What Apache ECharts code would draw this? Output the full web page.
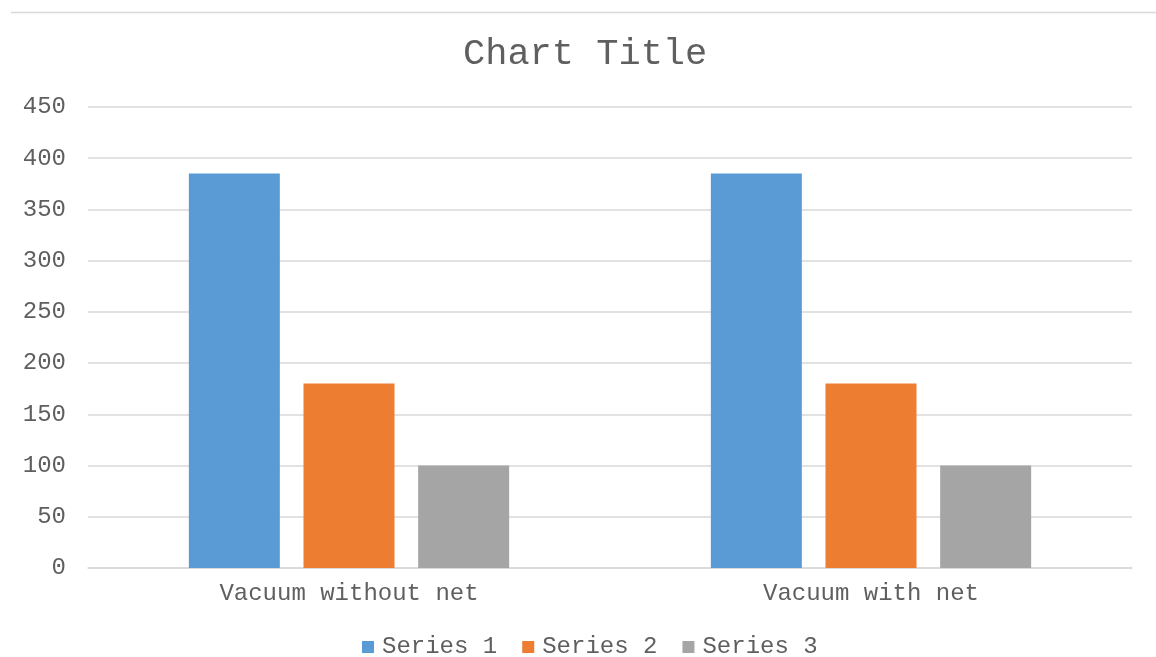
<!DOCTYPE html>
<html>
<head>
<meta charset="utf-8">
<script src="https://cdn.jsdelivr.net/npm/echarts@6/dist/echarts.min.js"></script>
<style>
  html, body { margin: 0; padding: 0; background: #ffffff; }
  #chart { width: 1156px; height: 657px; }
</style>
</head>
<body>
<div id="chart"></div>
<script>
// Chart data
const categories = ['Vacuum without net', 'Vacuum with net'];
const seriesNames = ['Series 1', 'Series 2', 'Series 3'];
const series1 = [385, 385];
const series2 = [180, 180];
const series3 = [100, 100];
const seriesColors = ['#5B9BD5', '#ED7D31', '#A5A5A5'];

const FONT = '"Liberation Mono", "Courier New", monospace';
const TEXT = '#5f5f5f';
const LINE = '#D9D9D9';

const chart = echarts.init(document.getElementById('chart'), null, { renderer: 'canvas' });

const values = [series1, series2, series3];

chart.setOption({
  backgroundColor: '#ffffff',
  animation: false,
  title: {
    text: 'Chart Title',
    left: 458,
    top: 31,
    textStyle: { fontFamily: FONT, fontSize: 37, fontWeight: 'normal', color: TEXT }
  },
  legend: {
    left: 357,
    bottom: -7,
    icon: 'rect',
    itemWidth: 12,
    itemHeight: 12,
    itemGap: 25,
    textStyle: { fontFamily: FONT, fontSize: 24, color: TEXT, padding: [0, 0, 0, 3] },
    data: seriesNames
  },
  graphic: [{
    type: 'line',
    shape: { x1: 11, y1: 12.5, x2: 1156, y2: 12.5 },
    style: { stroke: LINE, lineWidth: 1.5 }
  }],
  grid: { left: 88, right: 24, top: 107, bottom: 89 },
  xAxis: {
    type: 'category',
    data: categories,
    axisLine: { lineStyle: { color: LINE, width: 1.5 } },
    axisTick: { show: false },
    axisLabel: { fontFamily: FONT, fontSize: 24, color: TEXT, margin: 14 }
  },
  yAxis: {
    type: 'value',
    min: 0,
    max: 450,
    interval: 50,
    axisLine: { show: false },
    axisTick: { show: false },
    splitLine: { lineStyle: { color: LINE, width: 1.5 } },
    axisLabel: { fontFamily: FONT, fontSize: 24, color: TEXT, margin: 22 }
  },
  series: seriesNames.map((name, i) => ({
    name: name,
    type: 'bar',
    data: values[i],
    barWidth: 91,
    barGap: '26%',
    itemStyle: { color: seriesColors[i] }
  }))
});
</script>
</body>
</html>
